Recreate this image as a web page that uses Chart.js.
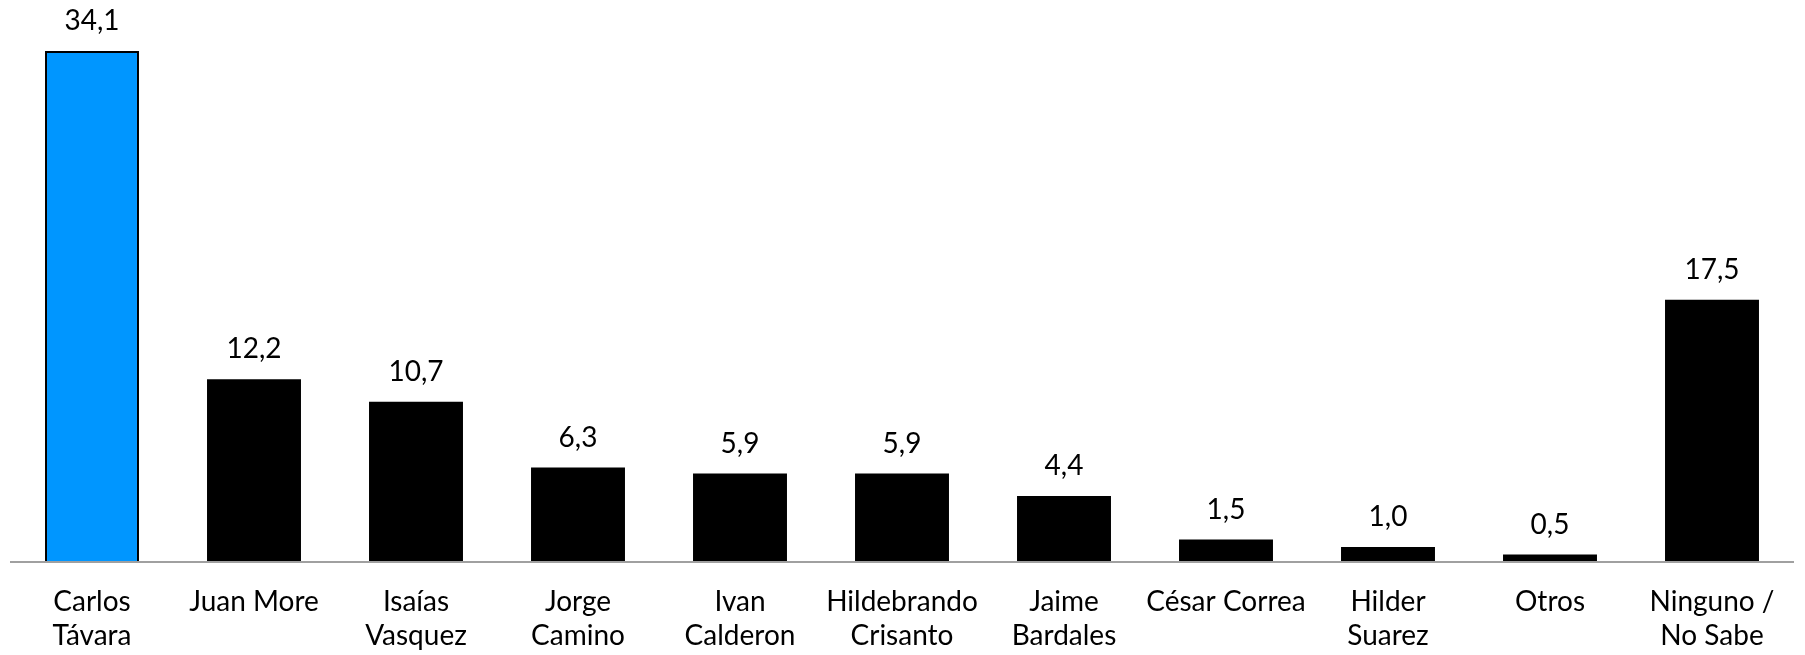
<!DOCTYPE html>
<html>
<head>
<meta charset="utf-8">
<script src="https://cdn.jsdelivr.net/npm/chart.js@4/dist/chart.umd.min.js"></script>
<style>
  html, body { margin: 0; padding: 0; background: #fff; }
  #wrap { width: 1805px; height: 655px; }
</style>
</head>
<body>
<div id="wrap"><canvas id="chart"></canvas></div>
<script>
// Datos del gráfico
const candidatos = [
  ['Carlos', 'Távara'], 'Juan More', ['Isaías', 'Vasquez'], ['Jorge', 'Camino'],
  ['Ivan', 'Calderon'], ['Hildebrando', 'Crisanto'], ['Jaime', 'Bardales'],
  'César Correa', ['Hilder', 'Suarez'], 'Otros', ['Ninguno /', 'No Sabe']
];
const porcentajes = [34.1, 12.2, 10.7, 6.3, 5.9, 5.9, 4.4, 1.5, 1.0, 0.5, 17.5];
const colores = ['#0096FF', '#000', '#000', '#000', '#000', '#000', '#000', '#000', '#000', '#000', '#000'];
const bordes = [2, 0, 0, 0, 0, 0, 0, 0, 0, 0, 0];

const FONT = 'Lato, "Open Sans", sans-serif';

// etiquetas de valor encima de cada barra
const valorLabels = {
  id: 'valorLabels',
  afterDatasetsDraw(chart) {
    const ctx = chart.ctx;
    const meta = chart.getDatasetMeta(0);
    ctx.save();
    ctx.font = '28px ' + FONT;
    ctx.fillStyle = '#000';
    ctx.textAlign = 'center';
    ctx.textBaseline = 'middle';
    meta.data.forEach((bar, i) => {
      ctx.fillText(porcentajes[i].toFixed(1).replace('.', ','), bar.x, bar.y - 30);
    });
    ctx.restore();
  }
};

new Chart(document.getElementById('chart'), {
  type: 'bar',
  data: {
    labels: candidatos,
    datasets: [{
      data: porcentajes,
      backgroundColor: colores,
      borderColor: '#000',
      borderWidth: bordes,
      borderSkipped: 'bottom',
      categoryPercentage: 1,
      barPercentage: 0.58
    }]
  },
  options: {
    responsive: true,
    maintainAspectRatio: false,
    animation: false,
    layout: { padding: { top: 51, left: 11, right: 12, bottom: 0 } },
    plugins: { legend: { display: false }, tooltip: { enabled: false } },
    scales: {
      x: {
        afterFit(scale) { scale.height = 93; },
        grid: { display: false, drawTicks: false },
        border: { display: true, color: '#a0a0a0', width: 2, z: 1 },
        ticks: {
          color: '#000',
          padding: 23,
          maxRotation: 0,
          autoSkip: false,
          font: { family: FONT, size: 28, lineHeight: 1.22 }
        }
      },
      y: {
        display: false,
        min: 0,
        max: 34.1
      }
    }
  },
  plugins: [valorLabels]
});
</script>
</body>
</html>
